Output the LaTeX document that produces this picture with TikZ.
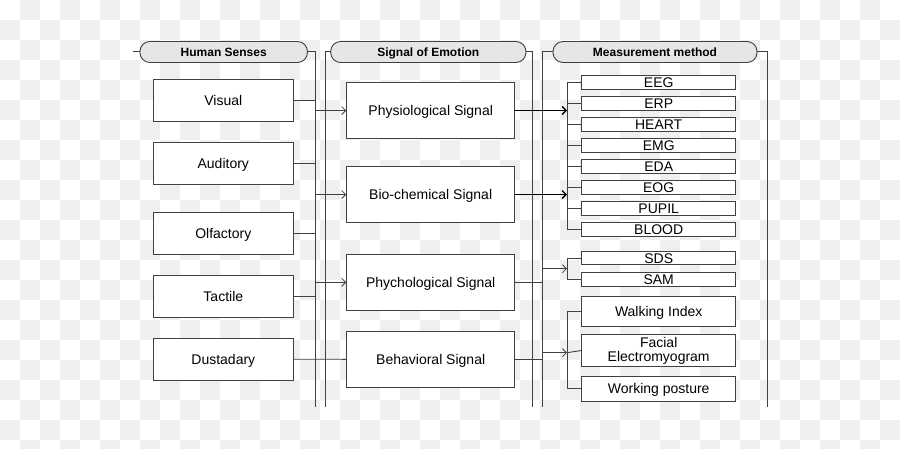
\documentclass[tikz,border=0pt]{standalone}
\usepackage{fontspec}
\setmainfont{Liberation Sans}
\usetikzlibrary{arrows.meta}
\definecolor{chk}{HTML}{EFEFEF}
\definecolor{ln}{HTML}{404040}
\definecolor{pillfill}{HTML}{E6E6E6}
\tikzset{
  sensebox/.style={draw=ln, line width=0.9pt, fill=white, minimum width=140pt, minimum height=42pt, inner sep=0pt, font=\fontsize{14}{16}\selectfont, text height=10pt, text depth=0pt},
  sigbox/.style={draw=ln, line width=0.9pt, fill=white, minimum width=168pt, minimum height=56pt, inner sep=0pt, font=\fontsize{14}{16}\selectfont, text height=10pt, text depth=0pt},
  measbase/.style={draw=ln, line width=0.9pt, fill=white, minimum width=154pt, inner sep=0pt, font=\fontsize{14}{14}\selectfont, align=center},
  measbox/.style={measbase, text height=10pt, text depth=0pt},
  pill/.style={draw=ln, line width=0.9pt, fill=pillfill, rounded corners=10pt, minimum height=21pt, inner sep=0pt, font=\bfseries\fontsize{12}{14}\selectfont, text height=9pt, text depth=0pt},
  lane/.style={draw=ln, line width=0.9pt},
  conn/.style={draw=ln, line width=0.9pt},
  thinarrow/.style={conn, -{Straight Barb[length=4pt,width=8pt,line width=0.8pt]}},
  boldarrow/.style={draw=black, line width=1.6pt, -{Straight Barb[length=4pt,width=8pt,line width=1.4pt]}},
}
\begin{document}
\begin{tikzpicture}[x=1pt,y=-1pt]
\useasboundingbox (0,0) rectangle (900,448);
% checkerboard background
\fill[white] (0,0) rectangle (900,448);
\begin{scope}
\clip (0,0) rectangle (900,448);
\foreach \j in {0,...,22}{
  \foreach \i in {0,...,44}{
    \ifodd\numexpr\i+\j\relax
      \fill[chk] (\i*20,\j*20) rectangle ++(20,20);
    \fi
  }
}
\end{scope}

% headers
\node[pill, minimum width=167.5pt] (hs) at (223.7,52) {Human Senses};
\node[pill, minimum width=195.3pt] (se) at (428.3,52) {Signal of Emotion};
\node[pill, minimum width=204pt] (mm) at (655,52) {Measurement method};

% lane coordinates
\coordinate (stubL) at (133,51.5);
\coordinate (busTop) at (315,51.5);
\coordinate (busBot) at (315,407);
\coordinate (sigLTop) at (325.7,51.5);
\coordinate (sigLBot) at (325.7,407);
\coordinate (sigRTop) at (532,51.5);
\coordinate (sigRBot) at (532,407);
\coordinate (measLTop) at (542.3,51.5);
\coordinate (measLBot) at (542.3,407);
\coordinate (measRTop) at (767,51.5);
\coordinate (measRBot) at (767,407);
\coordinate (brk) at (567,0);

% lanes
\draw[lane] (stubL) -- (hs.west |- stubL);
\draw[lane] (hs.east |- busTop) -- (busTop) -- (busBot);
\draw[lane] (se.west |- sigLTop) -- (sigLTop) -- (sigLBot);
\draw[lane] (se.east |- sigRTop) -- (sigRTop) -- (sigRBot);
\draw[lane] (mm.west |- measLTop) -- (measLTop) -- (measLBot);
\draw[lane] (mm.east |- measRTop) -- (measRTop) -- (measRBot);

% human senses
\node[sensebox] (vis) at (223.3,100) {Visual};
\node[sensebox] (aud) at (223.3,163.3) {Auditory};
\node[sensebox] (olf) at (223.3,233.3) {Olfactory};
\node[sensebox] (tac) at (223.3,296.3) {Tactile};
\node[sensebox] (dus) at (223.3,359.2) {Dustadary};

% signals
\node[sigbox] (phy) at (430.7,110.5) {Physiological Signal};
\node[sigbox] (bio) at (430.7,194.5) {Bio-chemical Signal};
\node[sigbox] (psy) at (430.7,282.3) {Phychological Signal};
\node[sigbox] (beh) at (430.7,359.3) {Behavioral Signal};

% measurements
\node[measbox, minimum height=14pt] (eeg) at (658.7,82.5) {EEG};
\node[measbox, minimum height=14pt] (erp) at (658.7,103.5) {ERP};
\node[measbox, minimum height=14pt] (hea) at (658.7,124.5) {HEART};
\node[measbox, minimum height=14pt] (emg) at (658.7,145.5) {EMG};
\node[measbox, minimum height=14pt] (eda) at (658.7,166.5) {EDA};
\node[measbox, minimum height=14pt] (eog) at (658.7,187.5) {EOG};
\node[measbox, minimum height=14pt] (pup) at (658.7,208.5) {PUPIL};
\node[measbox, minimum height=14pt] (blo) at (658.7,229.5) {BLOOD};
\node[measbox, minimum height=13pt] (sds) at (658.7,258.2) {SDS};
\node[measbox, minimum height=14pt] (sam) at (658.7,279.2) {SAM};
\node[measbox, minimum height=30pt] (wal) at (658.7,311.8) {Walking Index};
\node[measbase, minimum height=32pt] (fac) at (658.7,350.5) {Facial\\Electromyogram};
\node[measbox, minimum height=25pt] (wor) at (658.7,388.7) {Working posture};

% senses to bus
\foreach \n in {vis,aud,olf,tac}{
  \draw[conn] (\n.east) -- (\n.east -| busTop);
}
\draw[conn] (dus.east) -- (beh.west);

% bus to signals
\draw[thinarrow] (phy.west -| busTop) -- (phy.west);
\draw[thinarrow] (bio.west -| busTop) -- (bio.west);
\draw[thinarrow] (psy.west -| busTop) -- (psy.west);

% physiological / bio-chemical to measurements
\draw[boldarrow] (phy.east) -- (phy.east -| brk);
\draw[boldarrow] (bio.east) -- (bio.east -| brk);
\draw[conn] (eeg.west -| brk) -- (blo.west -| brk);
\foreach \n in {eeg,erp,hea,emg,eda,eog,pup,blo}{
  \draw[conn] (\n.west) -- (\n.west -| brk);
}

% phychological
\coordinate (psyMid) at (567,268.7);
\draw[conn] (psy.east) -- (psy.east -| measLTop) -- (psyMid -| measLTop);
\draw[thinarrow] (psyMid -| measLTop) -- (psyMid);
\draw[conn] (sds.west -| brk) -- (sam.west -| brk);
\draw[conn] (sds.west) -- (sds.west -| brk);
\draw[conn] (sam.west) -- (sam.west -| brk);

% behavioral
\coordinate (behMid) at (567,352.7);
\draw[conn] (beh.east) -- (beh.east -| measLTop) -- (behMid -| measLTop);
\draw[thinarrow] (behMid -| measLTop) -- (behMid);
\draw[conn] (behMid) -- (fac.west);
\draw[conn] (wal.west -| brk) -- (wor.west -| brk);
\draw[conn] (wal.west) -- (wal.west -| brk);
\draw[conn] (wor.west) -- (wor.west -| brk);
\end{tikzpicture}
\end{document}
